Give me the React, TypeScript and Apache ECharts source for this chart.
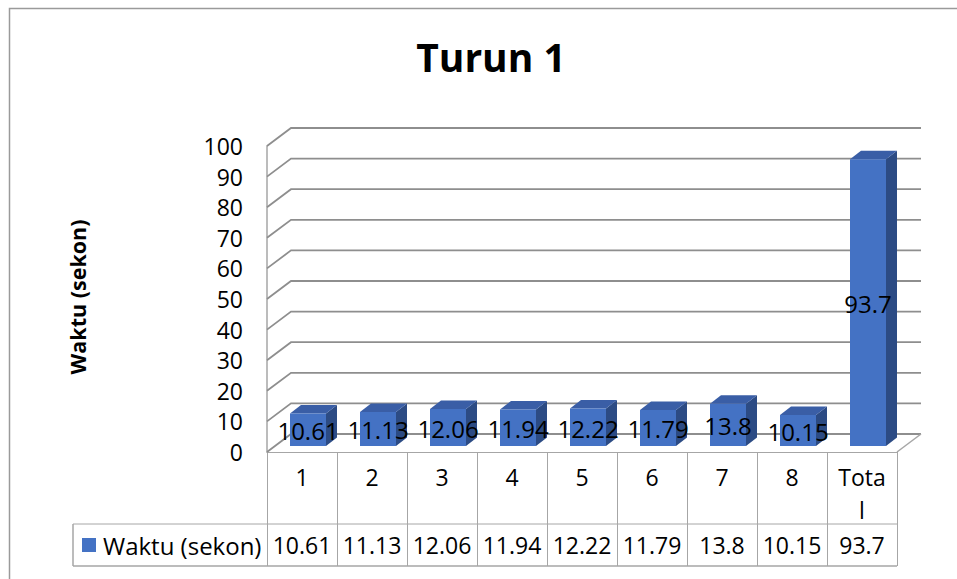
import React, { useEffect, useRef } from "react";
import * as echarts from "echarts";

const categories = ["1", "2", "3", "4", "5", "6", "7", "8", "Total"];
const values = [10.61, 11.13, 12.06, 11.94, 12.22, 11.79, 13.8, 10.15, 93.7];
const yTicks = [0, 10, 20, 30, 40, 50, 60, 70, 80, 90, 100];
const seriesName = "Waktu (sekon)";
const titleText = "Turun 1";

const FONT = "Open Sans";
const DX = 24;
const DY = -18;

export default function App() {
  const ref = useRef<HTMLDivElement>(null);
  useEffect(() => {
    if (!ref.current) return;
    const chart = echarts.init(ref.current, null, { renderer: "svg" });
    const n = categories.length;
    const option: any = {
      animation: false,
      backgroundColor: "#ffffff",
      textStyle: { fontFamily: FONT },
      title: {
        text: titleText,
        left: 486,
        top: 32,
        textAlign: "center",
        textStyle: { fontFamily: FONT, fontSize: 39, fontWeight: "bold", color: "#000" },
      },
      legend: {
        data: [seriesName],
        left: 82,
        top: 533,
        padding: 0,
        icon: "rect",
        itemWidth: 14,
        itemHeight: 14,
        itemGap: 7,
        textStyle: { fontFamily: FONT, fontSize: 24, color: "#000", padding: [0, 0, 0, 2] },
      },
      grid: { left: 267, top: 146, width: 630, height: 306 },
      xAxis: [
        {
          type: "category",
          data: categories,
          axisLine: { show: true, lineStyle: { color: "#a6a6a6", width: 1 } },
          axisTick: { show: true, length: 114, interval: 0, lineStyle: { color: "#a6a6a6", width: 1 } },
          axisLabel: {
            interval: 0,
            margin: 8,
            fontSize: 23,
            lineHeight: 33,
            color: "#000",
            fontFamily: FONT,
            width: 50,
            overflow: "breakAll",
          },
          splitLine: { show: false },
        },
        {
          type: "category",
          data: values.map((v) => String(v)),
          position: "bottom",
          offset: 72,
          axisLine: { show: false },
          axisTick: { show: false },
          axisLabel: { interval: 0, margin: 10, fontSize: 23, lineHeight: 22, color: "#000", fontFamily: FONT },
          splitLine: { show: false },
        },
      ],
      yAxis: {
        type: "value",
        min: 0,
        max: 100,
        interval: 10,
        axisLine: { show: true, lineStyle: { color: "#a6a6a6", width: 1.5 } },
        axisTick: { show: false },
        splitLine: { show: false },
        axisLabel: { margin: 24, fontSize: 23, color: "#000", fontFamily: FONT },
      },
      graphic: [
        {
          type: "rect",
          shape: { x: 9.5, y: 8.5, width: 1200, height: 1200 },
          style: { fill: "none", stroke: "#9a9a9a", lineWidth: 1.5 },
          silent: true,
        },
        {
          type: "text",
          x: 77,
          y: 297,
          rotation: Math.PI / 2,
          style: {
            text: seriesName,
            fontFamily: FONT,
            fontSize: 21.5,
            fontWeight: "bold",
            fill: "#000",
            align: "center",
            verticalAlign: "middle",
          },
        },
        { type: "line", shape: { x1: 73, y1: 524, x2: 897, y2: 524 }, style: { stroke: "#a6a6a6", lineWidth: 1 } },
        { type: "line", shape: { x1: 73, y1: 566, x2: 897, y2: 566 }, style: { stroke: "#a6a6a6", lineWidth: 1.5 } },
        { type: "line", shape: { x1: 73, y1: 524, x2: 73, y2: 566 }, style: { stroke: "#a6a6a6", lineWidth: 1.5 } },
      ],
      series: [
        {
          name: "wall",
          type: "custom",
          z: 1,
          silent: true,
          data: yTicks.map((v) => [0, v]),
          renderItem: (params: any, api: any) => {
            const v = api.value(1);
            const p0 = api.coord([0, v]);
            const band = api.size([1, 0])[0];
            const left = p0[0] - band / 2;
            const right = api.coord([n - 1, v])[0] + band / 2;
            const y = p0[1];
            const children: any[] = [
              {
                type: "polyline",
                shape: { points: [[left, y], [left + DX, y + DY], [right + DX, y + DY]] },
                style: { stroke: "#8e8e8e", lineWidth: 1.8, fill: "none" },
              },
            ];
            if (v === 0) {
              children.push({
                type: "line",
                shape: { x1: right, y1: y, x2: right + DX, y2: y + DY },
                style: { stroke: "#a6a6a6", lineWidth: 1.5 },
              });
            }
            return { type: "group", children };
          },
        },
        {
          name: seriesName,
          type: "custom",
          z: 3,
          itemStyle: { color: "#4472C4" },
          data: values.map((v, i) => [i, v]),
          renderItem: (params: any, api: any) => {
            const idx = api.value(0);
            const v = api.value(1);
            const top = api.coord([idx, v]);
            const base = api.coord([idx, 0]);
            const L = top[0] - 12;
            const W = 36;
            const R = L + W;
            const T = top[1] - 6;
            const B = base[1] - 6;
            const sdx = 11;
            const sdy = -8.5;
            return {
              type: "group",
              children: [
                {
                  type: "polygon",
                  shape: { points: [[R, T], [R + sdx, T + sdy], [R + sdx, B + sdy], [R, B]] },
                  style: { fill: "#2c4b84" },
                },
                {
                  type: "polygon",
                  shape: { points: [[L, T], [L + sdx, T + sdy], [R + sdx, T + sdy], [R, T]] },
                  style: { fill: "#3a5ea6" },
                },
                {
                  type: "rect",
                  shape: { x: L, y: T, width: W, height: B - T },
                  style: { fill: "#4472C4" },
                },
                {
                  type: "text",
                  x: L + W / 2,
                  y: (T + B) / 2 + 1,
                  style: {
                    text: String(v),
                    fontFamily: FONT,
                    fontSize: 24,
                    fill: "#000",
                    align: "center",
                    verticalAlign: "middle",
                  },
                },
              ],
            };
          },
        },
      ],
    };
    chart.setOption(option);
    return () => chart.dispose();
  }, []);
  return (
    <div
      ref={ref}
      style={{ position: "absolute", left: 0, top: 0, width: 957, height: 579 }}
    />
  );
}
